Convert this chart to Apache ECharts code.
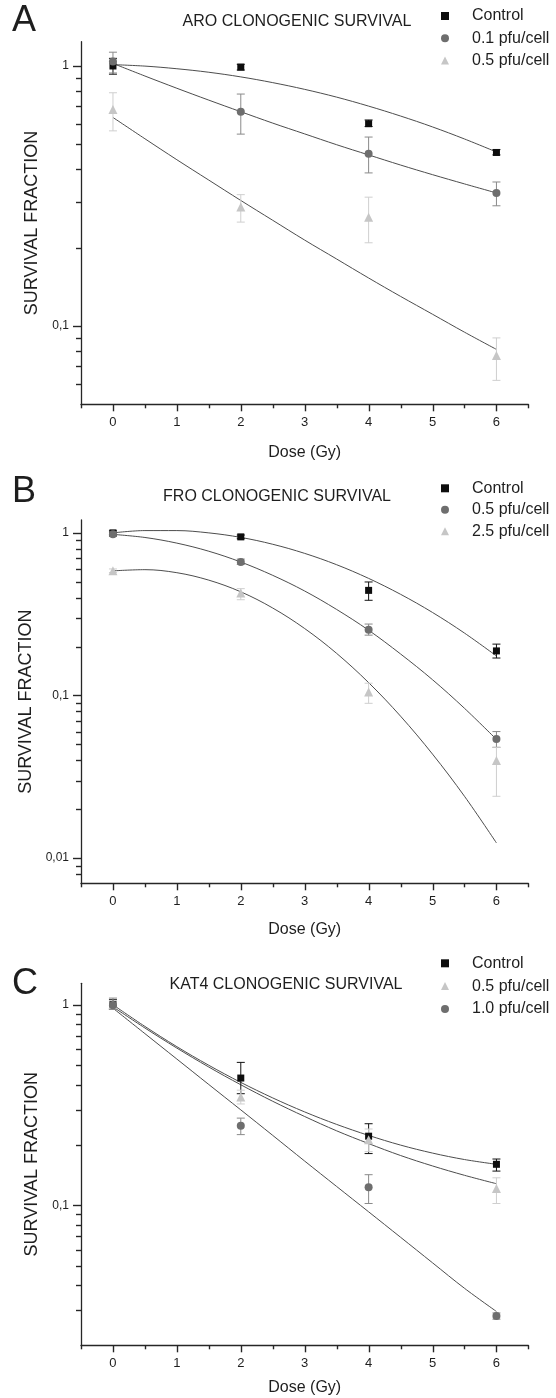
<!DOCTYPE html>
<html>
<head>
<meta charset="utf-8">
<title>Clonogenic survival</title>
<script src="https://cdn.jsdelivr.net/npm/echarts@6/dist/echarts.min.js"></script>
<style>
  html, body { margin: 0; padding: 0; background: #fff; }
  #chart { width: 556px; height: 1398px; }
</style>
</head>
<body>
<div id="chart"></div>
<script>
// Irradiation doses (Gy) at which colonies were counted
const DOSES = [0, 2, 4, 6];
// Doses at which the fitted survival curves are sampled
const FIT_DOSES = [0, 0.5, 1, 1.5, 2, 2.5, 3, 3.5, 4, 4.5, 5, 5.5, 6];

// ---- ARO cells ----
const aroTitle = 'ARO CLONOGENIC SURVIVAL';
const aroNames = ['Control', '0.1 pfu/cell', '0.5 pfu/cell'];
const aroControl = [1.0, 0.99, 0.60, 0.465];
const aroControlErr = [[0.93, 1.07], [0.965, 1.015], [0.585, 0.62], [0.455, 0.477]];
const aroLow = [1.04, 0.667, 0.46, 0.325];
const aroLowErr = [[0.94, 1.13], [0.547, 0.78], [0.388, 0.533], [0.29, 0.358]];
const aroHigh = [0.68, 0.287, 0.262, 0.077];
const aroHighErr = [[0.563, 0.789], [0.251, 0.32], [0.209, 0.313], [0.0618, 0.09]];
const aroControlFit = [1.012, 0.999, 0.976, 0.946, 0.908, 0.863, 0.813, 0.759, 0.701, 0.642, 0.583, 0.524, 0.467];
const aroLowFit = [1.023, 0.915, 0.821, 0.739, 0.667, 0.603, 0.548, 0.498, 0.455, 0.416, 0.382, 0.352, 0.325];
const aroHighFit = [0.634, 0.525, 0.436, 0.364, 0.304, 0.255, 0.214, 0.181, 0.153, 0.130, 0.111, 0.0947, 0.0813];

// ---- FRO cells ----
const froTitle = 'FRO CLONOGENIC SURVIVAL';
const froNames = ['Control', '0.5 pfu/cell', '2.5 pfu/cell'];
const froControl = [1.0, 0.945, 0.443, 0.188];
const froControlErr = [[0.97, 1.03], [0.92, 0.97], [0.385, 0.499], [0.17, 0.207]];
const froLow = [0.98, 0.663, 0.254, 0.054];
const froLowErr = [[0.95, 1.01], [0.64, 0.69], [0.235, 0.275], [0.048, 0.06]];
const froHigh = [0.584, 0.427, 0.105, 0.0398];
const froHighErr = [[0.57, 0.60], [0.388, 0.454], [0.0895, 0.119], [0.024, 0.048]];
const froControlFit = [1.0, 1.033, 1.033, 1.0, 0.938, 0.851, 0.748, 0.637, 0.525, 0.419, 0.324, 0.242, 0.175];
const froLowFit = [0.979, 0.937, 0.865, 0.771, 0.662, 0.548, 0.439, 0.338, 0.252, 0.180, 0.125, 0.0834, 0.0537];
const froHighFit = [0.584, 0.594, 0.569, 0.512, 0.434, 0.345, 0.258, 0.1815, 0.12, 0.0746, 0.0436, 0.024, 0.0124];

// ---- KAT4 cells ----
const katTitle = 'KAT4 CLONOGENIC SURVIVAL';
const katNames = ['Control', '0.5 pfu/cell', '1.0 pfu/cell'];
const katControl = [1.0, 0.431, 0.221, 0.16];
const katControlErr = [[0.95, 1.06], [0.36, 0.516], [0.181, 0.255], [0.148, 0.17]];
const katLow = [1.0, 0.347, 0.212, 0.121];
const katLowErr = [[0.96, 1.04], [0.32, 0.375], [0.185, 0.24], [0.102, 0.137]];
const katHigh = [0.995, 0.249, 0.123, 0.028];
const katHighErr = [[0.95, 1.08], [0.225, 0.272], [0.102, 0.142], [0.027, 0.029]];
const katControlFit = [1.0, 0.780, 0.618, 0.499, 0.410, 0.343, 0.292, 0.253, 0.223, 0.1995, 0.182, 0.169, 0.16];
const katLowFit = [0.977, 0.766, 0.608, 0.489, 0.399, 0.330, 0.277, 0.235, 0.203, 0.177, 0.157, 0.141, 0.128];
const katHighFit = [0.962, 0.718, 0.536, 0.400, 0.299, 0.223, 0.166, 0.124, 0.0927, 0.0692, 0.0516, 0.0385, 0.0295];

// Tick positions
const X_MAJOR_TICKS = [0, 1, 2, 3, 4, 5, 6];
const X_MINOR_TICKS = [-0.5, 0.5, 1.5, 2.5, 3.5, 4.5, 5.5, 6.5];
const Y_MAJOR_TICKS = [1, 0.1, 0.01];
const Y_MINOR_TICKS = [0.9, 0.8, 0.7, 0.6, 0.5, 0.4, 0.3, 0.2,
                       0.09, 0.08, 0.07, 0.06, 0.05, 0.04, 0.03, 0.02,
                       0.009, 0.008, 0.007];

const FONT = '"Liberation Sans", Arial, Helvetica, sans-serif';
const INK = '#1e1e1e';
const AXIS = '#262626';
const CURVE = '#4d4d4d';

// marker styles
const STYLE_CONTROL = { symbol: 'rect', size: 7, color: '#0d0d0d', bar: '#111' };
const STYLE_DARK = { symbol: 'circle', size: 8, color: '#6e6e6e', bar: '#8a8a8a' };
const STYLE_LIGHT = { symbol: 'triangle', size: 9, color: '#c6c6c6', bar: '#cfcfcf' };

const panels = [
  {
    key: 'A', title: aroTitle, titleX: 297, titleY: 22, letterY: 21,
    top: 41.7, height: 362.6, yMin: 0.05, yMax: 1.24,
    legendTop: 8, legendGap: 6.3, yNameGap: 38, xNameGap: 40,
    groups: [
      { name: aroNames[0], values: aroControl, err: aroControlErr, fit: aroControlFit, style: STYLE_CONTROL },
      { name: aroNames[1], values: aroLow, err: aroLowErr, fit: aroLowFit, style: STYLE_DARK },
      { name: aroNames[2], values: aroHigh, err: aroHighErr, fit: aroHighFit, style: STYLE_LIGHT }
    ]
  },
  {
    key: 'B', title: froTitle, titleX: 277, titleY: 497, letterY: 492,
    top: 520, height: 363.3, yMin: 0.007, yMax: 1.2,
    legendTop: 480.3, legendGap: 5.5, yNameGap: 44, xNameGap: 38,
    groups: [
      { name: froNames[0], values: froControl, err: froControlErr, fit: froControlFit, style: STYLE_CONTROL },
      { name: froNames[1], values: froLow, err: froLowErr, fit: froLowFit, style: STYLE_DARK },
      { name: froNames[2], values: froHigh, err: froHighErr, fit: froHighFit, style: STYLE_LIGHT }
    ]
  },
  {
    key: 'C', title: katTitle, titleX: 286, titleY: 985, letterY: 984,
    top: 983.3, height: 362, yMin: 0.02, yMax: 1.28,
    legendTop: 955.3, legendGap: 6.8, yNameGap: 38, xNameGap: 34,
    groups: [
      { name: katNames[0], values: katControl, err: katControlErr, fit: katControlFit, style: STYLE_CONTROL },
      { name: katNames[1], values: katLow, err: katLowErr, fit: katLowFit, style: STYLE_LIGHT },
      { name: katNames[2], values: katHigh, err: katHighErr, fit: katHighFit, style: STYLE_DARK }
    ]
  }
];

const pairs = (xs, ys) => xs.map((x, i) => [x, ys[i]]);

function isDecade(v) {
  const l = Math.log10(v);
  return Math.abs(l - Math.round(l)) < 1e-6;
}
function decadeLabel(v) {
  if (!isDecade(v)) return '';
  return String(Math.pow(10, Math.round(Math.log10(v)))).replace('.', ',');
}

// vertical error bar with caps
function errorBar(params, api) {
  const x = api.value(0);
  const lo = api.coord([x, api.value(1)]);
  const hi = api.coord([x, api.value(2)]);
  const c = api.visual('color');
  const w = 4;
  const st = { stroke: c, lineWidth: 1 };
  return {
    type: 'group',
    children: [
      { type: 'line', shape: { x1: lo[0], y1: lo[1], x2: hi[0], y2: hi[1] }, style: st },
      { type: 'line', shape: { x1: lo[0] - w, y1: lo[1], x2: lo[0] + w, y2: lo[1] }, style: st },
      { type: 'line', shape: { x1: hi[0] - w, y1: hi[1], x2: hi[0] + w, y2: hi[1] }, style: st }
    ]
  };
}

const grid = [], xAxis = [], yAxis = [], series = [], legend = [], graphic = [];
const axisLineStyle = { color: AXIS, width: 1.3 };

panels.forEach((p, i) => {
  grid.push({ left: 81, width: 447.4, top: p.top, height: p.height });

  xAxis.push({
    type: 'value', gridIndex: i, position: 'bottom', min: -0.5, max: 6.5, interval: 0.5,
    name: 'Dose (Gy)', nameLocation: 'middle', nameGap: p.xNameGap,
    nameTextStyle: { fontFamily: FONT, fontSize: 16, color: INK },
    axisLine: { show: true, onZero: false, lineStyle: axisLineStyle },
    axisTick: { show: false },
    splitLine: { show: false },
    axisLabel: {
      margin: 12, fontFamily: FONT, fontSize: 13, color: INK,
      formatter: v => (Number.isInteger(v) ? String(v) : '')
    }
  });

  yAxis.push({
    type: 'log', logBase: 10, gridIndex: i, position: 'left', min: p.yMin, max: p.yMax,
    name: 'SURVIVAL FRACTION', nameLocation: 'middle', nameGap: p.yNameGap,
    nameTextStyle: { fontFamily: FONT, fontSize: 18, color: INK },
    axisLine: { show: true, onZero: false, lineStyle: axisLineStyle },
    axisTick: { show: false },
    splitLine: { show: false },
    axisLabel: {
      margin: 12, fontFamily: FONT, fontSize: 12, color: INK,
      formatter: decadeLabel
    }
  });

  const legendNames = [];
  p.groups.forEach(g => {
    const sName = p.key + '|' + g.name;
    legendNames.push(sName);
    series.push({
      type: 'line', xAxisIndex: i, yAxisIndex: i, silent: true,
      data: pairs(FIT_DOSES, g.fit), smooth: 0.35, showSymbol: false, symbol: 'none',
      lineStyle: { color: CURVE, width: 1 }, z: 2
    });
    series.push({
      type: 'custom', xAxisIndex: i, yAxisIndex: i, silent: true, clip: false,
      data: DOSES.map((d, k) => [d, g.err[k][0], g.err[k][1]]),
      encode: { x: 0, y: [1, 2] },
      renderItem: errorBar, itemStyle: { color: g.style.bar }, z: 3
    });
    series.push({
      type: 'scatter', name: sName, xAxisIndex: i, yAxisIndex: i,
      data: pairs(DOSES, g.values), symbol: g.style.symbol, symbolSize: g.style.size,
      itemStyle: { color: g.style.color, opacity: 1 }, z: 4
    });
  });

  legend.push({
    data: legendNames, orient: 'vertical', left: 441, top: p.legendTop,
    padding: 0, itemGap: p.legendGap, itemWidth: 8, itemHeight: 8,
    selectedMode: false,
    formatter: n => n.split('|')[1],
    textStyle: { fontFamily: FONT, fontSize: 16, color: INK, lineHeight: 16, padding: [0, 0, 0, 18] }
  });

  graphic.push({
    type: 'text', x: p.titleX, y: p.titleY,
    style: { text: p.title, font: '16px ' + FONT, fill: INK,
             textAlign: 'center', align: 'center', textVerticalAlign: 'middle', verticalAlign: 'middle' }
  });
  graphic.push({
    type: 'text', x: 12, y: p.letterY,
    style: { text: p.key, font: '36px ' + FONT, fill: INK,
             textAlign: 'left', align: 'left', textVerticalAlign: 'middle', verticalAlign: 'middle' }
  });
});

const chart = echarts.init(document.getElementById('chart'), null, { renderer: 'canvas' });
chart.setOption({
  animation: false,
  backgroundColor: '#fff',
  grid: grid,
  xAxis: xAxis,
  yAxis: yAxis,
  legend: legend,
  graphic: graphic,
  series: series
});

// Tick marks, positioned through each panel's own axis scales
const tickLines = [];
function tick(x1, y1, x2, y2) {
  tickLines.push({
    type: 'line', silent: true, z: 10,
    shape: { x1: x1, y1: y1, x2: x2, y2: y2 },
    style: { stroke: AXIS, lineWidth: 1.4 }
  });
}
panels.forEach((p, i) => {
  const finder = { xAxisIndex: i, yAxisIndex: i };
  const yTicks = Y_MAJOR_TICKS.filter(v => v >= p.yMin && v <= p.yMax).map(v => [v, 8])
    .concat(Y_MINOR_TICKS.filter(v => v > p.yMin * 1.001 && v <= p.yMax).map(v => [v, 5]));
  yTicks.forEach(([v, len]) => {
    const pt = chart.convertToPixel(finder, [-0.5, v]);
    const y = Math.round(pt[1]) + 0.5;
    tick(pt[0] - len, y, pt[0], y);
  });
  const xTicks = X_MAJOR_TICKS.map(v => [v, 7]).concat(X_MINOR_TICKS.map(v => [v, 4]));
  xTicks.forEach(([v, len]) => {
    const pt = chart.convertToPixel(finder, [v, p.yMin]);
    const x = Math.round(pt[0]) + 0.5;
    tick(x, pt[1], x, pt[1] + len);
  });
});
chart.setOption({ graphic: graphic.concat(tickLines) });
</script>
</body>
</html>
